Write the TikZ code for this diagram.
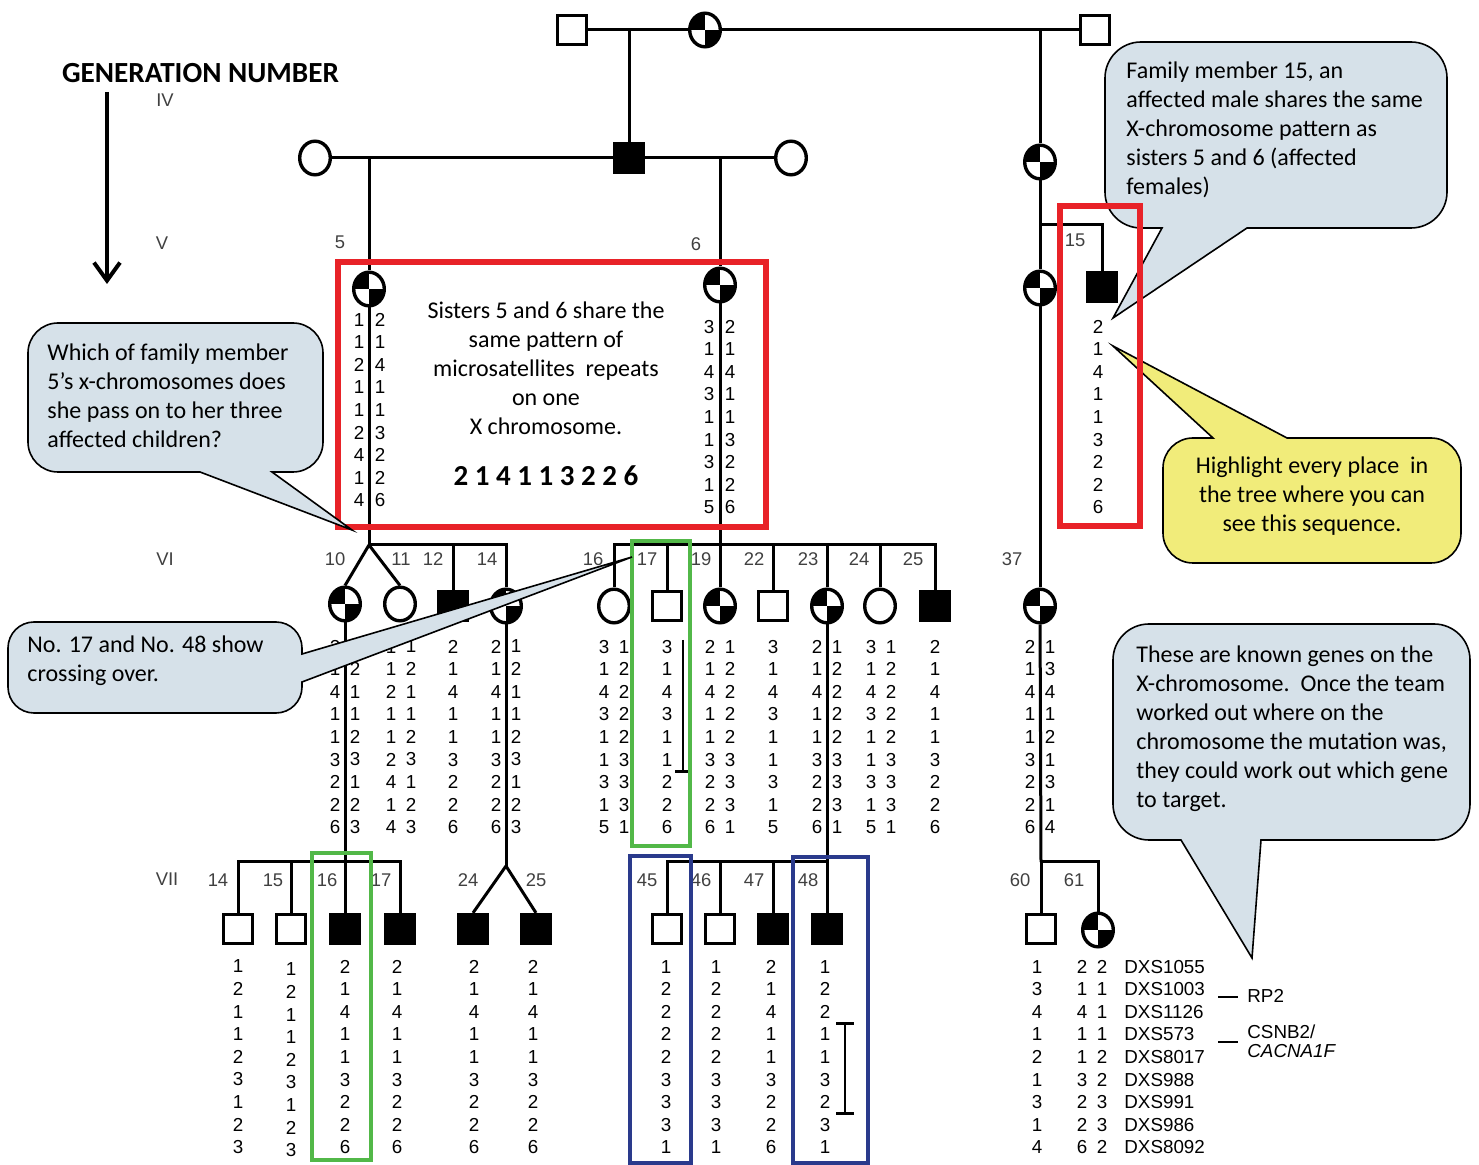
\documentclass[tikz,border=0pt]{standalone}
\usepackage{fontspec}
\setmainfont{Carlito}
\newfontfamily\pedfont{Liberation Sans}
\usetikzlibrary{arrows.meta, shapes.geometric}
\definecolor{callblue}{RGB}{214,225,233}
\definecolor{callyellow}{RGB}{241,236,122}
\definecolor{boxred}{RGB}{232,34,40}
\definecolor{boxgreen}{RGB}{82,184,72}
\definecolor{boxblue}{RGB}{42,58,140}
\newcommand{\hapcol}[9]{#1\\#2\\#3\\#4\\#5\\#6\\#7\\#8\\#9}

\begin{document}
\begin{tikzpicture}[x=0.5pt, y=-0.5pt,
  ped/.style={line width=1.5pt},
  sym/.style={draw, line width=1.7pt, inner sep=0pt, fill=white},
  male/.style={sym, rectangle, minimum size=14.4pt},
  affmale/.style={male, fill=black},
  female/.style={sym, ellipse, minimum width=15.3pt, minimum height=16.8pt},
  carrier/.style={female, path picture={
      \fill[black] (path picture bounding box.north west) rectangle (path picture bounding box.center);
      \fill[black] (path picture bounding box.center) rectangle (path picture bounding box.south east);}},
  hap/.style={font=\pedfont\fontsize{9.4}{11.3}\selectfont, align=center, inner sep=0pt},
  lbl/.style={font=\pedfont\fontsize{9.2}{11}\selectfont, text=black!75, inner sep=0pt},
  redbox/.style={draw=boxred, line width=2.6pt},
  greenbox/.style={draw=boxgreen, line width=1.6pt},
  bluebox/.style={draw=boxblue, line width=1.6pt},
  callout/.style={draw, line width=0.8pt, fill=callblue},
  calltext/.style={font=\fontsize{12}{14.5}\selectfont, align=left, inner sep=0pt},
  bar/.style={line width=1.4pt}]

\useasboundingbox (0,0) rectangle (1479,1165);

% Generation arrow
\node[font=\bfseries\fontsize{14.6}{16}\selectfont, anchor=west] (gentitle) at (55,73) {GENERATION NUMBER};
\coordinate (gtop) at (107,92);
\coordinate (gbot) at (107,284);
\draw[line width=2.4pt, -{Straight Barb[length=9pt, width=13pt, line width=2pt]}] (gtop) -- (gbot);

% Top couple
\node[male] (g3a) at (572,30) {};
\node[carrier] (g3b) at (705,30) {};
\node[male] (g3c) at (1095,30) {};
\draw[ped] (g3a) -- (g3b);
\draw[ped] (g3b) -- (g3c);
\coordinate (m1) at (629,30);
\coordinate (m2) at (1040,30);

% Generation IV
\node[female] (g4a) at (315,158) {};
\node[affmale] (g4b) at (629,158) {};
\node[female] (g4c) at (791,158) {};
\node[carrier] (g4d) at (1040,162) {};
\draw[ped] (m1) -- (g4b);
\draw[ped] (m2) -- (g4d);
\draw[ped] (g4a) -- (g4b);
\draw[ped] (g4b) -- (g4c);
\coordinate (m3) at (369,158);
\coordinate (m4) at (720,158);

% Generation V
\node[carrier] (v5) at (369,289) {};
\node[carrier] (v6) at (720,285) {};
\node[carrier] (vx) at (1040,288) {};
\node[affmale] (v15) at (1102,287) {};
\draw[ped] (m3) -- (v5);
\draw[ped] (m4) -- (v6);
\draw[ped] (g4d) -- (vx);
\coordinate (s15) at (1040,225);
\draw[ped] (s15) -| (v15);

% Generation VI
\node[carrier] (vi10) at (345,604) {};
\node[female] (vi11) at (400,604) {};
\node[affmale] (vi12) at (453,606) {};
\node[carrier] (vi14) at (506,606) {};
\node[female] (vi16) at (614,606) {};
\node[male] (vi17) at (667,606) {};
\node[carrier] (vi19) at (720,606) {};
\node[male] (vi22) at (773,606) {};
\node[carrier] (vi23) at (827,606) {};
\node[female] (vi24) at (880,606) {};
\node[affmale] (vi25) at (935,606) {};
\node[carrier] (vi37) at (1040,606) {};
\coordinate (s5) at (369,545);
\coordinate (s6) at (720,545);
\draw[ped] (v5) -- (s5);
\draw[ped] (s5) -- (vi10.north);
\draw[ped] (s5) -- (vi11.north);
\draw[ped] (s5) -| (vi14);
\draw[ped] (vi12) -- (vi12 |- s5);
\draw[ped] (v6) -- (s6);
\draw[ped] (s6) -| (vi16);
\draw[ped] (s6) -| (vi25);
\foreach \n in {17,19,22,23,24} \draw[ped] (vi\n) -- (vi\n |- s6);
\draw[ped] (vx) -- (vi37);

% Generation VII
\node[male] (vii14) at (238,929) {};
\node[male] (vii15) at (291,929) {};
\node[affmale] (vii16) at (345,929) {};
\node[affmale] (vii17) at (400,929) {};
\node[affmale] (vii24) at (473,929) {};
\node[affmale] (vii25) at (536,929) {};
\node[male] (vii45) at (667,929) {};
\node[male] (vii46) at (720,929) {};
\node[affmale] (vii47) at (773,929) {};
\node[affmale] (vii48) at (827,929) {};
\node[male] (vii60) at (1041,929) {};
\node[carrier] (vii61) at (1098,930) {};
\coordinate (s10) at (345,862);
\coordinate (s14) at (506,866);
\coordinate (s23) at (827,862);
\coordinate (s37) at (1041,862);
\draw[ped] (vi10) -- (s10);
\draw[ped] (s10) -| (vii14);
\draw[ped] (s10) -| (vii17);
\draw[ped] (vii15) -- (vii15 |- s10);
\draw[ped] (vii16) -- (s10);
\draw[ped] (vi14) -- (s14);
\draw[ped] (s14) -- (vii24.north);
\draw[ped] (s14) -- (vii25.north);
\draw[ped] (vi23) -- (s23);
\draw[ped] (s23) -| (vii45);
\draw[ped] (vii46) -- (vii46 |- s23);
\draw[ped] (vii47) -- (vii47 |- s23);
\draw[ped] (vii48) -- (s23);
\draw[ped] (vi37) -- (s37);
\draw[ped] (s37) -| (vii61);
\draw[ped] (vii60) -- (s37);

% Generation numerals and individual numbers
\foreach \t/\x/\y in {IV/165/100, V/162/243, VI/165/559, VII/167/879,
    5/340/242, 6/696/244, 15/1075/240,
    10/335/559, 11/401/559, 12/433/559, 14/487/559, 16/593/559, 17/647/559,
    19/701/559, 22/754/559, 23/808/559, 24/859/559, 25/913/559, 37/1012/559,
    14/218/880, 15/273/880, 16/327/880, 17/381/880, 24/468/880, 25/536/880,
    45/647/880, 46/701/880, 47/754/880, 48/808/880, 60/1020/880, 61/1074/880}
  \node[lbl] (n\x-\y) at (\x,\y) {\t};

% Haplotypes, generation V
\node[hap] (h5a) at (359,410) {\hapcol 112112414};
\node[hap] (h5b) at (380,410) {\hapcol 214113226};
\node[hap] (h6a) at (709,417) {\hapcol 314311315};
\node[hap] (h6b) at (730,417) {\hapcol 214113226};
\node[hap] (h15) at (1098,417) {\hapcol 214113226};

% Haplotypes, generation VI
\node[hap] (h10a) at (335,737) {\hapcol 214113226};
\node[hap] (h10b) at (355,737) {\hapcol 121123123};
\node[hap] (h11a) at (391,737) {\hapcol 112112414};
\node[hap] (h11b) at (411,737) {\hapcol 121123123};
\node[hap] (h12) at (453,737) {\hapcol 214113226};
\node[hap] (h14a) at (496,737) {\hapcol 214113226};
\node[hap] (h14b) at (516,737) {\hapcol 121123123};
\node[hap] (h16a) at (604,737) {\hapcol 314311315};
\node[hap] (h16b) at (624,737) {\hapcol 122223331};
\node[hap] (h17) at (667,737) {\hapcol 314311226};
\node[hap] (h19a) at (710,737) {\hapcol 214113226};
\node[hap] (h19b) at (730,737) {\hapcol 122223331};
\node[hap] (h22) at (773,737) {\hapcol 314311315};
\node[hap] (h23a) at (817,737) {\hapcol 214113226};
\node[hap] (h23b) at (837,737) {\hapcol 122223331};
\node[hap] (h24a) at (871,737) {\hapcol 314311315};
\node[hap] (h24b) at (891,737) {\hapcol 122223331};
\node[hap] (h25) at (935,737) {\hapcol 214113226};
\node[hap] (h37a) at (1030,737) {\hapcol 214113226};
\node[hap] (h37b) at (1050,737) {\hapcol 134121314};

% Haplotypes, generation VII
\node[hap] (hv14) at (238,1057) {\hapcol 121123123};
\node[hap] (hv15) at (291,1060) {\hapcol 121123123};
\node[hap] (hv16) at (345,1057) {\hapcol 214113226};
\node[hap] (hv17) at (397,1057) {\hapcol 214113226};
\node[hap] (hv24) at (474,1057) {\hapcol 214113226};
\node[hap] (hv25) at (533,1057) {\hapcol 214113226};
\node[hap] (hv45) at (666,1057) {\hapcol 122223331};
\node[hap] (hv46) at (716,1057) {\hapcol 122223331};
\node[hap] (hv47) at (771,1057) {\hapcol 214113226};
\node[hap] (hv48) at (825,1057) {\hapcol 122113231};
\node[hap] (hv60) at (1037,1057) {\hapcol 134121314};
\node[hap] (hv61a) at (1082,1057) {\hapcol 214113226};
\node[hap] (hv61b) at (1102,1057) {\hapcol 211122332};

% Crossover bars
\coordinate (x17t) at (683,640);
\coordinate (x17b) at (683,773);
\draw[bar, -{Bar[width=8pt]}] (x17t) -- (x17b);
\coordinate (x48t) at (845,1022);
\coordinate (x48b) at (845,1115);
\draw[bar, {Bar[width=9pt]}-{Bar[width=9pt]}] (x48t) -- (x48b);

% Markers and genes
\node[hap, align=left, anchor=west] (markers) at (1124,1057)
  {DXS1055\\DXS1003\\DXS1126\\DXS573\\DXS8017\\DXS988\\DXS991\\DXS986\\DXS8092};
\coordinate (rpa) at (1218,997);
\coordinate (rpb) at (1238,997);
\draw[bar] (rpa) -- (rpb);
\node[hap, anchor=west] (rp2) at (1247,996) {RP2};
\coordinate (csa) at (1218,1042);
\coordinate (csb) at (1238,1042);
\draw[bar] (csa) -- (csb);
\node[hap, align=left, anchor=west, font=\pedfont\fontsize{9.4}{9.5}\selectfont] (csnb) at (1247,1041)
  {CSNB2/\\\textit{CACNA1F}};

% Highlight boxes
\draw[redbox] (338,262) rectangle (766,527);
\node[calltext, align=center] (t-red) at (546,368)
  {Sisters 5 and 6 share the\\same pattern of\\microsatellites\ \ repeats\\on one\\X chromosome.};
\node[font=\bfseries\fontsize{14.5}{16}\selectfont] (t-seq) at (546,476) {2 1 4 1 1 3 2 2 6};
\draw[greenbox] (632,541) rectangle (690,846);
\draw[greenbox] (312,853) rectangle (371,1160);
\draw[bluebox] (630,856) rectangle (691,1163);
\draw[bluebox] (793,857) rectangle (868,1163);

% Callouts
\path[callout] (272,472) [rounded corners=15pt] -- (323,472) -- (323,323) -- (28,323)
  -- (28,472) [sharp corners] -- (200,472) -- (352,530) -- cycle;
\node[calltext, anchor=west] (c-which) at (47,396)
  {Which of family member\\5’s x-chromosomes does\\she pass on to her three\\affected children?};

\path[callout] (302,682) [rounded corners=13pt] -- (302,713) -- (8,713) -- (8,622)
  -- (302,622) [sharp corners] -- (302,654) -- (632,557) -- cycle;
\node[calltext, anchor=west] (c-cross) at (27,661) {No. 17 and No. 48 show\\crossing over.};

\path[callout] (1247,228) [rounded corners=18pt] -- (1447,228) -- (1447,42) -- (1105,42)
  -- (1105,228) [sharp corners] -- (1162,228) -- (1113,318) -- cycle;
\node[calltext, anchor=west] (c-fam) at (1126,130)
  {Family member 15, an\\affected male shares the same\\X-chromosome pattern as\\sisters 5 and 6 (affected\\females)};

\path[callout, fill=callyellow] (1213,438) [rounded corners=15pt] -- (1163,438) -- (1163,563)
  -- (1461,563) -- (1461,438) [sharp corners] -- (1287,438) -- (1113,346) -- cycle;
\node[calltext, align=center] (c-high) at (1312,496)
  {Highlight every place\ \ in\\the tree where you can\\see this sequence.};

\path[callout] (1261,840) [rounded corners=18pt] -- (1470,840) -- (1470,624) -- (1113,624)
  -- (1113,840) [sharp corners] -- (1181,840) -- (1252,958) -- cycle;
\node[calltext, anchor=west] (c-genes) at (1136,729)
  {These are known genes on the\\X-chromosome.\ \ Once the team\\worked out where on the\\chromosome the mutation was,\\they could work out which gene\\to target.};

\draw[redbox] (1060,206) rectangle (1140,526);

\end{tikzpicture}
\end{document}
